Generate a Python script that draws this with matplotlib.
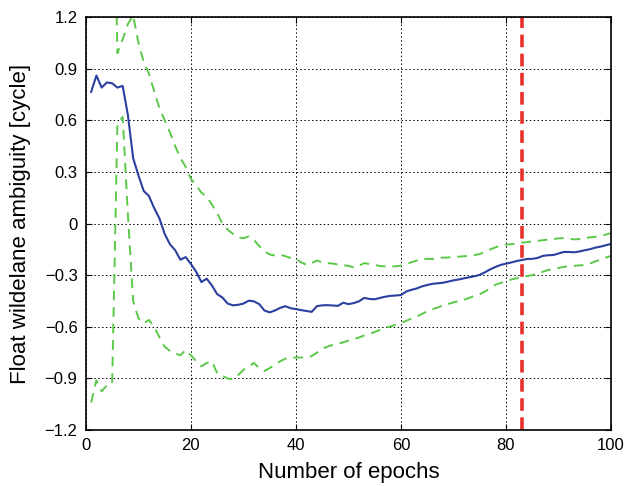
import numpy as np
import matplotlib.pyplot as plt

plt.rcParams['font.family'] = ['Liberation Sans', 'DejaVu Sans']

epochs = np.arange(1, 101)

# float ambiguity estimate (blue)
est = [0.765, 0.86, 0.79, 0.82, 0.815, 0.79, 0.80, 0.63, 0.38, 0.28,
       0.19, 0.16, 0.09, 0.03, -0.06, -0.12, -0.155, -0.21, -0.195, -0.235,
       -0.28, -0.34, -0.32, -0.36, -0.41, -0.43, -0.465, -0.475, -0.472, -0.465,
       -0.448, -0.452, -0.468, -0.505, -0.516, -0.505, -0.49, -0.48, -0.492, -0.497,
       -0.503, -0.508, -0.513, -0.48, -0.475, -0.474, -0.476, -0.478, -0.46, -0.468,
       -0.462, -0.452, -0.432, -0.438, -0.44, -0.432, -0.425, -0.42, -0.418, -0.415,
       -0.395, -0.385, -0.377, -0.365, -0.357, -0.35, -0.347, -0.344, -0.337, -0.33,
       -0.325, -0.318, -0.312, -0.306, -0.298, -0.283, -0.266, -0.252, -0.24, -0.233,
       -0.226, -0.218, -0.212, -0.206, -0.205, -0.2, -0.188, -0.184, -0.183, -0.174,
       -0.165, -0.165, -0.167, -0.162, -0.155, -0.149, -0.14, -0.134, -0.126, -0.118]

# upper bound (green dashed)
upper = [2.6, 2.7, 2.6, 2.6, 2.6, 0.99, 1.07, 1.16, 1.21, 1.05,
         0.94, 0.87, 0.77, 0.67, 0.60, 0.53, 0.45, 0.38, 0.33, 0.26,
         0.22, 0.18, 0.155, 0.11, 0.06, 0.0, -0.035, -0.06, -0.08, -0.085,
         -0.075, -0.095, -0.13, -0.16, -0.18, -0.185, -0.18, -0.19, -0.2, -0.205,
         -0.225, -0.24, -0.23, -0.215, -0.225, -0.23, -0.232, -0.238, -0.242, -0.245,
         -0.255, -0.245, -0.23, -0.235, -0.24, -0.247, -0.249, -0.25, -0.248, -0.245,
         -0.235, -0.225, -0.215, -0.208, -0.205, -0.206, -0.2, -0.198, -0.197, -0.196,
         -0.192, -0.19, -0.187, -0.183, -0.177, -0.165, -0.15, -0.138, -0.128, -0.122,
         -0.12, -0.115, -0.111, -0.108, -0.104, -0.1, -0.097, -0.093, -0.09, -0.086,
         -0.085, -0.088, -0.092, -0.09, -0.085, -0.08, -0.077, -0.072, -0.064, -0.055]

# lower bound (green dashed)
lower = [-1.04, -0.91, -0.975, -0.94, -0.93, 0.58, 0.62, 0.05, -0.45, -0.55,
         -0.58, -0.56, -0.6, -0.66, -0.715, -0.74, -0.755, -0.765, -0.735, -0.765,
         -0.8, -0.83, -0.81, -0.8, -0.87, -0.885, -0.9, -0.905, -0.88, -0.85,
         -0.83, -0.81, -0.84, -0.856, -0.84, -0.82, -0.8, -0.785, -0.78, -0.778,
         -0.778, -0.778, -0.77, -0.75, -0.728, -0.715, -0.705, -0.698, -0.69, -0.68,
         -0.672, -0.662, -0.65, -0.64, -0.63, -0.618, -0.605, -0.598, -0.588, -0.578,
         -0.565, -0.552, -0.54, -0.525, -0.51, -0.498, -0.488, -0.475, -0.467, -0.458,
         -0.45, -0.443, -0.432, -0.42, -0.41, -0.395, -0.375, -0.355, -0.345, -0.335,
         -0.325, -0.318, -0.312, -0.305, -0.3, -0.29, -0.28, -0.27, -0.265, -0.258,
         -0.252, -0.247, -0.245, -0.243, -0.241, -0.232, -0.22, -0.21, -0.198, -0.188]

fix_epoch = 83

fig = plt.figure(figsize=(6.27, 4.86), dpi=100)
ax = fig.add_axes([0.137, 0.115, 0.8375, 0.85])

ax.plot(epochs, upper, '--', color='#5cc84a', lw=1.4, dashes=(5, 3.5))
ax.plot(epochs, lower, '--', color='#5cc84a', lw=1.4, dashes=(5, 3.5))
ax.plot(epochs, est, '-', color='#2b3f9f', lw=1.5)
ax.axvline(fix_epoch, color='#e8302a', lw=2.6, ls=(0, (3.5, 1.8)))

ax.set_xlim(0, 100)
ax.set_ylim(-1.2, 1.2)
ax.set_xticks(np.arange(0, 101, 20))
ax.set_yticks(np.round(np.arange(-1.2, 1.21, 0.3), 1))
ax.set_yticklabels(['−1.2', '−0.9', '−0.6', '−0.3', '0', '0.3', '0.6', '0.9', '1.2'])
ax.grid(True, color='black', ls=(0, (1.5, 2.5)), lw=0.7)
ax.tick_params(direction='in', top=True, right=True, labelsize=12, length=4)
ax.tick_params(axis='x', pad=6)
ax.tick_params(axis='y', pad=6)
for s in ax.spines.values():
    s.set_linewidth(1.2)

ax.set_xlabel('Number of epochs', fontsize=16, labelpad=6)
ax.set_ylabel('Float wildelane ambiguity [cycle]', fontsize=16, labelpad=10)

fig.savefig('out.png', dpi=100)
